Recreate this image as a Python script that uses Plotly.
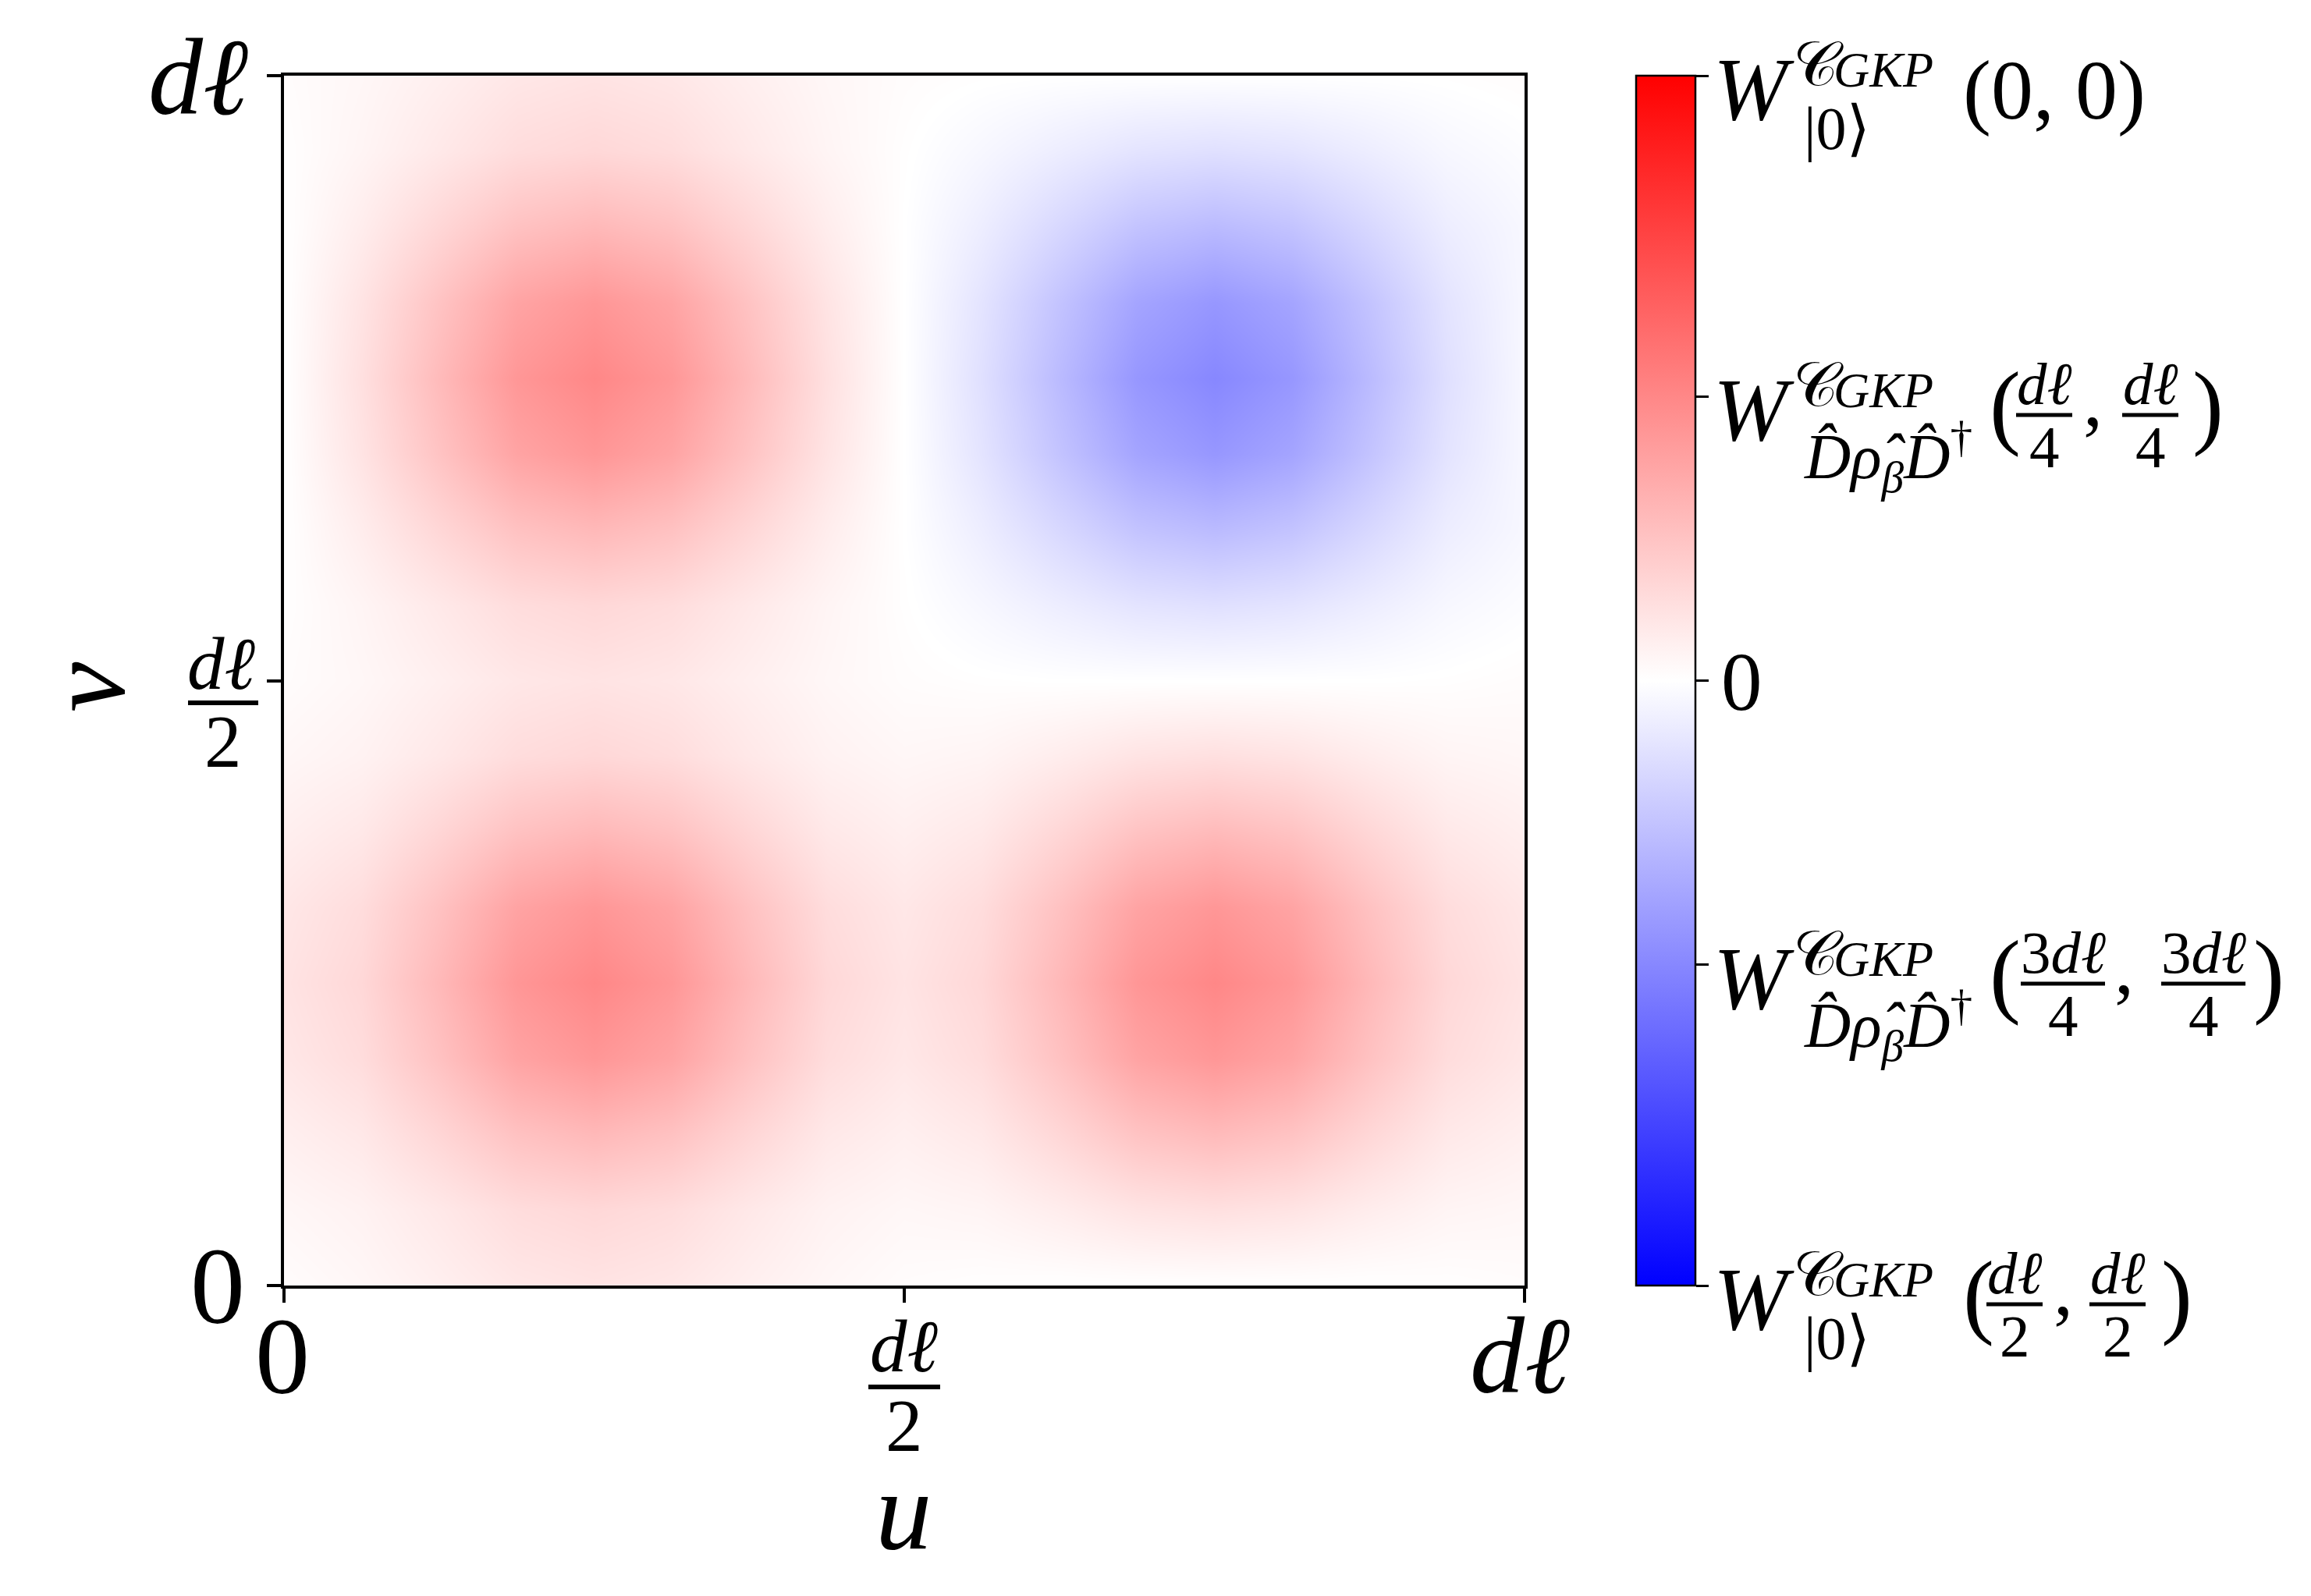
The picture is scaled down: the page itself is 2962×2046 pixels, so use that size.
import plotly.graph_objects as go

# grid positions along u and v, as a fraction of dℓ
U_GRID = [0, 0.0625, 0.125, 0.1875, 0.25, 0.3125, 0.375, 0.4375, 0.5,
          0.5625, 0.625, 0.6875, 0.75, 0.8125, 0.875, 0.9375, 1]
V_GRID = [0, 0.0625, 0.125, 0.1875, 0.25, 0.3125, 0.375, 0.4375, 0.5,
          0.5625, 0.625, 0.6875, 0.75, 0.8125, 0.875, 0.9375, 1]

# Wigner function values, one row per v (bottom to top)
W_GRID = [
    [0.012, 0.032, 0.062, 0.094, 0.108, 0.094, 0.062, 0.032, 0.012, 0.004, 0.0, 0.0, 0.0, 0.0, 0.0, 0.004, 0.012],
    [0.032, 0.051, 0.090, 0.135, 0.154, 0.135, 0.090, 0.051, 0.032, 0.041, 0.072, 0.107, 0.122, 0.107, 0.072, 0.041, 0.032],
    [0.062, 0.090, 0.162, 0.241, 0.277, 0.241, 0.162, 0.090, 0.062, 0.088, 0.158, 0.235, 0.269, 0.235, 0.158, 0.088, 0.062],
    [0.094, 0.135, 0.241, 0.360, 0.411, 0.360, 0.241, 0.135, 0.094, 0.135, 0.241, 0.358, 0.409, 0.358, 0.241, 0.135, 0.094],
    [0.108, 0.154, 0.277, 0.411, 0.470, 0.411, 0.277, 0.154, 0.108, 0.154, 0.277, 0.411, 0.470, 0.411, 0.277, 0.154, 0.108],
    [0.094, 0.135, 0.241, 0.360, 0.411, 0.360, 0.241, 0.135, 0.094, 0.135, 0.241, 0.358, 0.409, 0.358, 0.241, 0.135, 0.094],
    [0.062, 0.090, 0.162, 0.241, 0.277, 0.241, 0.162, 0.090, 0.062, 0.088, 0.158, 0.235, 0.269, 0.235, 0.158, 0.088, 0.062],
    [0.032, 0.051, 0.090, 0.135, 0.154, 0.135, 0.090, 0.051, 0.032, 0.041, 0.072, 0.107, 0.122, 0.107, 0.072, 0.041, 0.032],
    [0.012, 0.032, 0.062, 0.094, 0.108, 0.094, 0.062, 0.032, 0.012, 0.004, 0.0, 0.0, 0.0, 0.0, 0.0, 0.004, 0.012],
    [0.004, 0.041, 0.088, 0.135, 0.154, 0.135, 0.088, 0.041, 0.004, -0.031, -0.070, -0.107, -0.122, -0.107, -0.070, -0.031, -0.010],
    [0.0, 0.072, 0.158, 0.241, 0.277, 0.241, 0.158, 0.072, 0.0, -0.070, -0.154, -0.235, -0.269, -0.235, -0.154, -0.070, -0.030],
    [0.0, 0.107, 0.235, 0.358, 0.411, 0.358, 0.235, 0.107, 0.0, -0.107, -0.235, -0.356, -0.409, -0.356, -0.235, -0.107, -0.030],
    [0.0, 0.122, 0.269, 0.409, 0.470, 0.409, 0.269, 0.122, 0.0, -0.122, -0.269, -0.409, -0.470, -0.409, -0.269, -0.122, -0.030],
    [0.0, 0.107, 0.235, 0.358, 0.411, 0.358, 0.235, 0.107, 0.0, -0.107, -0.235, -0.356, -0.409, -0.356, -0.235, -0.107, -0.030],
    [0.0, 0.072, 0.158, 0.241, 0.277, 0.241, 0.158, 0.072, 0.0, -0.070, -0.154, -0.235, -0.269, -0.235, -0.154, -0.070, -0.030],
    [0.004, 0.041, 0.088, 0.135, 0.154, 0.135, 0.088, 0.041, 0.004, -0.031, -0.070, -0.107, -0.122, -0.107, -0.070, -0.031, -0.010],
    [0.012, 0.032, 0.062, 0.094, 0.108, 0.094, 0.062, 0.032, 0.012, 0.004, 0.0, 0.0, 0.0, 0.0, 0.0, 0.004, 0.012],
]

AXIS_TICKS = [0, 0.5, 1]
CBAR_TICKS = [-1, -0.47, 0, 0.47, 1]

BWR = [[0, "rgb(0,0,255)"], [0.5, "rgb(255,255,255)"], [1, "rgb(255,0,0)"]]

# plot area in page pixels
L, T, R, B = 356, 89, 1946, 1640
PW, PH = R - L, B - T
FONT = "Liberation Serif, Times New Roman, Times, DejaVu Serif, serif"


def to_paper(x, y):
    return (x - L) / PW, (B - y) / PH


def put(fig, s, x, base, size, anchor="left"):
    """Place text so that its baseline sits at pixel row `base`."""
    xx, yy = to_paper(x, base - 0.34 * size)
    fig.add_annotation(x=xx, y=yy, xref="paper", yref="paper", text=s,
                       showarrow=False, xanchor=anchor, yanchor="middle",
                       font=dict(size=size, family=FONT, color="black"))


def bar(fig, xc, y, half, width=5):
    x0, y0 = to_paper(xc - half, y)
    x1, _ = to_paper(xc + half, y)
    fig.add_shape(type="line", xref="paper", yref="paper", x0=x0, x1=x1,
                  y0=y0, y1=y0, line=dict(color="black", width=width))


def frac(fig, xc, yt, num, den, half, size=77):
    put(fig, num, xc, yt + 10, size, "center")
    bar(fig, xc, yt + 24, half)
    put(fig, den, xc, yt + 91, size, "center")


fig = go.Figure(
    go.Heatmap(
        x=U_GRID,
        y=V_GRID,
        z=W_GRID,
        zmin=-1,
        zmax=1,
        zsmooth="best",
        colorscale=BWR,
        colorbar=dict(
            x=(2089 - L) / PW, xanchor="left", xpad=0,
            y=0.5, yanchor="middle", len=1, lenmode="fraction", ypad=0,
            thickness=76, outlinecolor="black", outlinewidth=2.5,
            tickvals=CBAR_TICKS, ticks="outside", ticklen=16, tickwidth=3,
            tickcolor="black", showticklabels=False,
        ),
        hovertemplate="u=%{x}<br>v=%{y}<br>W=%{z}<extra></extra>",
    )
)

axis_style = dict(
    range=[0, 1], tickvals=AXIS_TICKS, showticklabels=False,
    ticks="outside", ticklen=18, tickwidth=3.5, tickcolor="black",
    showline=True, linewidth=3.5, linecolor="black", mirror=True,
    showgrid=False, zeroline=False,
)
fig.update_layout(
    width=2962, height=2046, autosize=False,
    margin=dict(l=L, r=2962 - R, t=T, b=2046 - B),
    plot_bgcolor="white", paper_bgcolor="white",
    font=dict(family=FONT, color="black"),
    xaxis=axis_style, yaxis=axis_style,
)

# axis tick labels
put(fig, "0", 354, 1778, 140, "center")
put(fig, "<i>dℓ</i>", 1151, 1750, 95, "center")
bar(fig, 1151, 1770, 46, 6)
put(fig, "2", 1151, 1852, 95, "center")
put(fig, "<i>dℓ</i>", 1940, 1777, 140, "center")

put(fig, "0", 308, 1688, 140, "right")
put(fig, "<i>dℓ</i>", 276, 875, 95, "center")
bar(fig, 278, 893, 45, 6)
put(fig, "2", 278, 975, 95, "center")
put(fig, "<i>dℓ</i>", 312, 138, 140, "right")

# axis titles
put(fig, "<i>u</i>", 1150, 1977, 145, "center")
vx, vy = to_paper(102, 873)
fig.add_annotation(x=vx, y=vy, xref="paper", yref="paper", text="<i>v</i>",
                   showarrow=False, xanchor="center", yanchor="middle",
                   textangle=-90, font=dict(size=145, family=FONT, color="black"))

# colour bar labels
SUB_ZERO = "|0⟩"
SUB_D = "<i>D̂ρ̂</i><sub><i>β</i></sub><i>D̂</i><sup>†</sup>"


def w_prefix(yt, sub, sub_base, sub_size):
    put(fig, "<i>W</i>", 2186, yt + 56, 114)
    put(fig, "𝒞", 2288, yt + 12, 80)
    put(fig, "<i>GKP</i>", 2340, yt + 14, 64)
    put(fig, sub, 2302, yt + sub_base, sub_size)


def tick_y(val):
    return B - (val + 1) / 2 * PH


yt = tick_y(CBAR_TICKS[4])
w_prefix(yt, SUB_ZERO, 94, 78)
put(fig, "(0, 0)", 2506, yt + 56, 108)

yt = tick_y(CBAR_TICKS[3])
w_prefix(yt, SUB_D, 105, 82)
put(fig, "(", 2540, yt + 52, 120)
frac(fig, 2612, yt, "<i>dℓ</i>", "4", 36)
put(fig, ",", 2660, yt + 37, 100)
frac(fig, 2748, yt, "<i>dℓ</i>", "4", 36)
put(fig, ")", 2800, yt + 52, 120)

put(fig, "0", 2196, tick_y(CBAR_TICKS[2]) + 38, 105)

yt = tick_y(CBAR_TICKS[1])
w_prefix(yt, SUB_D, 105, 82)
put(fig, "(", 2540, yt + 52, 120)
frac(fig, 2636, yt, "3<i>dℓ</i>", "4", 54)
put(fig, ",", 2700, yt + 37, 100)
frac(fig, 2816, yt, "3<i>dℓ</i>", "4", 54)
put(fig, ")", 2878, yt + 52, 120)

yt = tick_y(CBAR_TICKS[0])
w_prefix(yt, SUB_ZERO, 94, 78)
put(fig, "(", 2506, yt + 52, 120)
frac(fig, 2574, yt, "<i>dℓ</i>", "2", 36)
put(fig, ",", 2622, yt + 37, 100)
frac(fig, 2706, yt, "<i>dℓ</i>", "2", 36)
put(fig, ")", 2760, yt + 52, 120)

fig.write_html("out.html")
